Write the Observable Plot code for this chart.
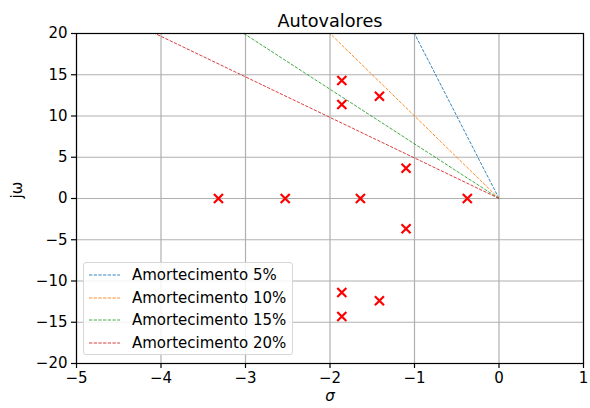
<!DOCTYPE html>
<html>
<head>
<meta charset="utf-8">
<script src="https://cdn.jsdelivr.net/npm/d3@7"></script>
<script src="https://cdn.jsdelivr.net/npm/@observablehq/plot@0.6"></script>
<style>
  body { margin: 0; background: #fff; }
  #wrap { position: relative; width: 590px; height: 408px; font-family: "DejaVu Sans", sans-serif; }
  #legend { position: absolute; left: 83px; top: 262px; width: 208px; height: 91px; border: 1px solid #d6d6d6; border-radius: 3px; background: rgba(255,255,255,0.85); font-size: 15px; color: #000; }
  .row { position: absolute; left: 0; height: 20px; display: flex; align-items: center; }
  .row svg { margin-left: 5px; margin-right: 12px; }
</style>
</head>
<body>
<div id="wrap"></div>
<script>
// Eigenvalues (sigma, j omega)
const poleSigma = [-3.32, -2.53, -1.64, -0.375, -1.10, -1.10, -1.86, -1.86, -1.86, -1.86, -1.415, -1.415];
const poleOmega = [0, 0, 0, 0, 3.67, -3.67, 11.4, -11.4, 14.3, -14.3, 12.4, -12.4];

// Damping lines: from origin to top edge
const dampLabels = ["Amortecimento 5%", "Amortecimento 10%", "Amortecimento 15%", "Amortecimento 20%"];
const dampEndSigma = [-1.0, -2.0, -3.02, -4.07];
const dampEndOmega = [20, 20, 20, 20];
const dampColors = ["#1f77b4", "#ff7f0e", "#2ca02c", "#d62728"];

const xTicks = [-5, -4, -3, -2, -1, 0, 1];
const yTicks = [-20, -15, -10, -5, 0, 5, 10, 15, 20];

const poles = poleSigma.map((s, i) => ({s, w: poleOmega[i]}));
const segs = dampLabels.map((lab, i) => ({lab, x1: 0, y1: 0, x2: dampEndSigma[i], y2: dampEndOmega[i], c: dampColors[i]}));

const fmt = d => d < 0 ? "\u2212" + Math.abs(d) : String(d);

const chart = Plot.plot({
  width: 590, height: 408,
  marginLeft: 76, marginRight: 7, marginTop: 33, marginBottom: 45,
  style: { fontFamily: "DejaVu Sans, sans-serif", fontSize: "14.7px", color: "#000", background: "#fff", overflow: "visible" },
  x: { domain: [-5, 1] },
  y: { domain: [-20, 20] },
  marks: [
    Plot.gridX(xTicks, { stroke: "#b0b0b0", strokeOpacity: 1, strokeWidth: 1.2 }),
    Plot.gridY(yTicks, { stroke: "#b0b0b0", strokeOpacity: 1, strokeWidth: 1.2 }),
    Plot.link(segs, { x1: "x1", y1: "y1", x2: "x2", y2: "y2", stroke: "c", strokeWidth: 0.9, strokeDasharray: "3.3,1.4" }),
    Plot.dot(poles, { x: "s", y: "w", symbol: "times", r: 4.2, stroke: "#ff0000", strokeWidth: 2.2 }),
    Plot.frame({ stroke: "#000", strokeWidth: 1.2 }),
    Plot.axisX(xTicks, { tickSize: 5, tickPadding: 4, tickFormat: fmt, label: null, fontSize: 15, strokeWidth: 1.2 }),
    Plot.axisY(yTicks, { tickSize: 5, tickPadding: 4, tickFormat: fmt, label: null, fontSize: 15, strokeWidth: 1.2 }),
    Plot.text(["Autovalores"], { frameAnchor: "top", dy: -19, fontSize: 17.7, fill: "#000" }),
    Plot.text(["σ"], { frameAnchor: "bottom", dy: 37, fontSize: 15, fontStyle: "italic", fill: "#000" }),
    Plot.text(["jω"], { frameAnchor: "left", dx: -59, rotate: -90, fontSize: 15, fill: "#000" })
  ]
});

const wrap = document.getElementById("wrap");
wrap.appendChild(chart);

const legend = document.createElement("div");
legend.id = "legend";
const rowTops = [2, 24.5, 47, 69.5];
dampLabels.forEach((lab, i) => {
  const row = document.createElement("div");
  row.className = "row";
  row.style.top = rowTops[i] + "px";
  row.innerHTML = `<svg width="31" height="6"><line x1="0" y1="3" x2="31" y2="3" stroke="${dampColors[i]}" stroke-width="0.9" stroke-dasharray="3.3,1.4"/></svg><span>${lab}</span>`;
  legend.appendChild(row);
});
wrap.appendChild(legend);
</script>
</body>
</html>
